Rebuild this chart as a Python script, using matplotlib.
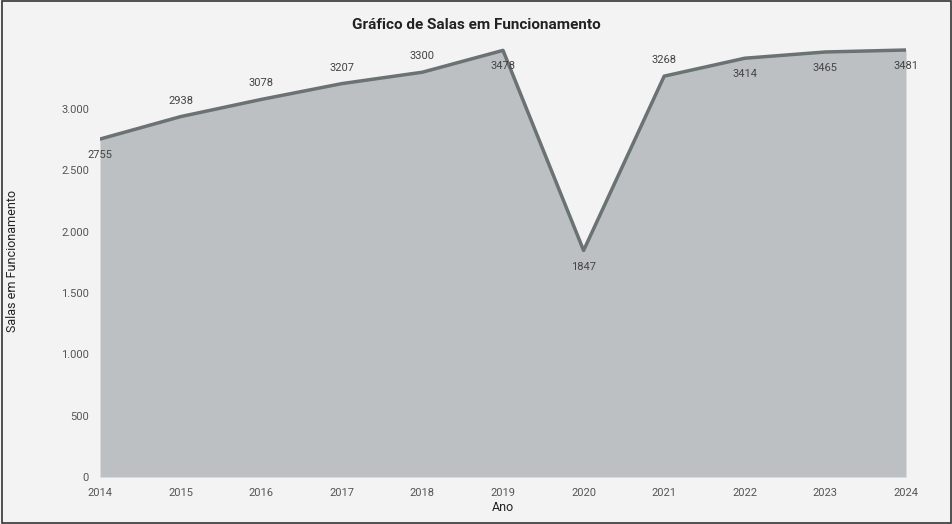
import matplotlib
matplotlib.use("Agg")
import matplotlib.pyplot as plt
from matplotlib.ticker import FuncFormatter
from matplotlib.patches import Rectangle

anos = [2014, 2015, 2016, 2017, 2018, 2019, 2020, 2021, 2022, 2023, 2024]
salas = [2755, 2938, 3078, 3207, 3300, 3478, 1847, 3268, 3414, 3465, 3481]
# label placement: +1 above the point, -1 below
lado = [-1, 1, 1, 1, 1, -1, -1, 1, -1, -1, -1]

plt.rcParams["font.family"] = ["Roboto", "DejaVu Sans"]

fig = plt.figure(figsize=(9.53, 5.24), dpi=100, facecolor="#f3f3f3")
fig.patches.append(Rectangle((0.002, 0.002), 0.996, 0.996, transform=fig.transFigure,
                             fill=False, edgecolor="#333333", linewidth=1.2))
ax = fig.add_axes([100 / 953, 47 / 524, 806 / 953, 433 / 524])
ax.set_facecolor("#f3f3f3")

ax.fill_between(anos, salas, 0, color="#bcc0c2", linewidth=0)
ax.plot(anos, salas, color="#6b7274", linewidth=2.5)

for x, y, s in zip(anos, salas, lado):
    ax.annotate(str(y), (x, y), xytext=(0, 8 * s), textcoords="offset points",
                ha="center", va="bottom" if s > 0 else "top",
                fontsize=8, color="#444444")

ax.set_xlim(2014, 2024)
ax.set_ylim(0, 3530)
ax.set_xticks(anos)
ax.set_yticks([0, 500, 1000, 1500, 2000, 2500, 3000])
ax.yaxis.set_major_formatter(FuncFormatter(lambda v, p: f"{int(v):,}".replace(",", ".")))
ax.tick_params(length=0, labelsize=8, colors="#555555", pad=8)
for s in ax.spines.values():
    s.set_visible(False)
ax.set_xlabel("Ano", fontsize=9, color="#222222", labelpad=2)
ax.set_ylabel("Salas em Funcionamento", fontsize=9, color="#222222", labelpad=30)
fig.text(0.5, 0.945, "Gráfico de Salas em Funcionamento", ha="center",
         fontsize=11, fontweight="bold", color="#222222")

fig.savefig("out.png", dpi=100, facecolor=fig.get_facecolor())
